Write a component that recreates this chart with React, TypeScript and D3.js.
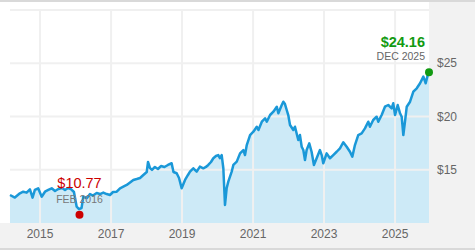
import React from "react";
import * as d3 from "d3";

const dates: string[] = [
  "2014-02-26","2014-04-17","2014-06-08","2014-07-12","2014-08-16","2014-09-19","2014-10-16","2014-11-09","2014-12-13",
  "2015-01-18","2015-02-21","2015-03-27","2015-05-01","2015-06-04","2015-07-08","2015-08-15","2015-09-15","2015-10-16","2015-11-15","2015-12-16",
  "2016-01-13","2016-02-06","2016-03-03","2016-03-21","2016-04-28","2016-05-29","2016-06-29","2016-08-06","2016-09-09","2016-10-13","2016-11-17","2016-12-21",
  "2017-01-21","2017-02-28","2017-04-03","2017-05-07","2017-06-11","2017-07-15","2017-08-18","2017-09-22","2017-10-26","2017-11-29",
  "2018-01-03","2018-01-16","2018-02-06","2018-02-26","2018-03-28","2018-04-28","2018-05-29","2018-07-04","2018-08-09","2018-09-16","2018-10-05","2018-11-07","2018-12-01","2018-12-28",
  "2019-02-01","2019-03-03","2019-03-24","2019-04-27","2019-06-01","2019-07-04","2019-08-08","2019-09-04","2019-09-28","2019-10-26","2019-11-19","2019-12-16",
  "2020-01-09","2020-01-26","2020-02-13","2020-03-01","2020-03-18","2020-04-04","2020-04-21","2020-05-26","2020-06-12","2020-07-17","2020-08-20","2020-09-23","2020-10-10","2020-10-28","2020-12-01",
  "2021-01-04","2021-02-08","2021-02-25","2021-04-01","2021-05-05","2021-05-22","2021-06-25","2021-07-29","2021-09-02","2021-09-18","2021-10-23","2021-11-08","2021-11-25","2021-12-13","2021-12-29",
  "2022-01-16","2022-02-19","2022-03-08","2022-04-11","2022-04-28","2022-05-16","2022-06-02","2022-06-19","2022-07-06","2022-08-02","2022-08-26","2022-09-19","2022-10-17","2022-11-20","2022-12-08","2022-12-24",
  "2023-01-28","2023-03-03","2023-04-06","2023-05-11","2023-06-14","2023-07-18","2023-08-22","2023-09-25","2023-10-19","2023-11-15","2023-12-19",
  "2024-01-23","2024-02-26","2024-03-31","2024-04-17","2024-05-21","2024-06-25","2024-07-12","2024-08-16","2024-09-19","2024-10-23","2024-11-27","2024-12-13",
  "2025-01-01","2025-01-28","2025-02-21","2025-03-10","2025-03-27","2025-04-13","2025-05-01","2025-06-04","2025-07-08","2025-08-12","2025-09-15","2025-10-19","2025-11-12","2025-12-03","2025-12-16",
];

const prices: number[] = [
  12.63,12.39,12.79,12.94,12.85,13.16,12.38,13.10,13.26,
  12.47,12.94,13.10,13.26,13.00,13.19,13.29,13.10,13.29,13.19,12.91,
  11.53,11.31,11.41,12.47,12.35,12.72,12.58,12.82,12.72,12.86,12.72,12.63,
  12.91,12.94,13.26,13.41,13.57,13.80,14.04,14.13,14.23,14.51,
  14.79,15.73,15.16,14.98,15.26,15.07,15.35,15.26,15.45,15.61,14.79,14.67,14.23,13.26,
  14.04,14.51,14.82,15.14,14.82,15.29,15.14,15.26,15.45,15.73,16.08,16.29,
  16.38,16.08,16.38,15.14,11.69,13.26,13.88,14.82,15.45,15.76,16.54,16.85,16.38,17.32,18.26,
  18.57,19.04,18.73,19.51,19.83,19.51,20.14,20.45,20.92,20.30,21.08,21.39,21.17,20.61,20.14,
  19.20,18.73,19.04,17.79,18.26,17.16,16.85,15.92,16.85,17.48,16.69,15.45,16.08,16.85,16.38,15.61,
  16.54,16.08,16.38,16.69,17.01,17.58,17.16,16.69,16.23,17.32,18.26,
  18.42,18.89,19.51,19.04,19.67,19.98,19.51,20.14,20.92,21.08,20.77,21.24,
  20.14,21.08,20.30,19.98,18.26,19.51,20.92,21.39,22.33,22.65,23.12,23.74,23.12,23.90,24.16,
];

const yTicks: number[] = [15, 20, 25];
const yGrid: number[] = [15, 20, 25, 30];
const xTickYears: number[] = [2015, 2017, 2019, 2021, 2023, 2025];

const lowDate = "2016-02-11";
const lowValue = 10.77;
const lowLabel = "$10.77";
const lowSub = "FEB 2016";
const lastLabel = "$24.16";
const lastSub = "DEC 2025";

export default function App() {
  const W = 475, H = 250;
  const left = 10, right = 429, top = 10, bottom = 223;
  const parse = d3.timeParse("%Y-%m-%d");
  const data = dates.map((d, i) => ({ date: parse(d) as Date, value: prices[i] }));
  const x = d3.scaleTime().domain([data[0].date, data[data.length - 1].date]).range([left, right]);
  const y = d3.scaleLinear().domain([10, 30]).range([bottom, top]);

  const area = d3.area<{ date: Date; value: number }>()
    .x((d) => x(d.date)).y0(bottom).y1((d) => y(d.value));
  const line = d3.line<{ date: Date; value: number }>()
    .x((d) => x(d.date)).y((d) => y(d.value));

  const last = data[data.length - 1];
  const lowX = x(parse(lowDate) as Date);
  const lowY = y(lowValue);
  const lastX = x(last.date);
  const lastY = y(last.value);
  const font = "'Liberation Sans', Arial, sans-serif";

  return (
    <svg width={W} height={H} style={{ position: "absolute", left: 0, top: 0 }} fontFamily={font}>
      <rect x={0} y={0} width={W} height={H} fill="#ffffff" />
      <path d={area(data) || ""} fill="#cdeaf7" />
      {yGrid.map((v) => (
        <line key={"h" + v} x1={left} x2={right} y1={y(v)} y2={y(v)} stroke="#f0f0f0" strokeWidth={2} />
      ))}
      {xTickYears.map((yr) => {
        const xx = x(new Date(yr, 0, 1));
        return <line key={"v" + yr} x1={xx} x2={xx} y1={top} y2={bottom} stroke="#f0f0f0" strokeWidth={2} />;
      })}
      <path d={line(data) || ""} fill="none" stroke="#1a98d8" strokeWidth={2.5} strokeLinejoin="round" />
      <rect x={right} y={0} width={W - right} height={H} fill="#f2f2f2" />
      <rect x={0} y={bottom} width={W} height={H - bottom} fill="#f2f2f2" />
      <rect x={0} y={0} width={W} height={2} fill="#d9d9d9" />
      <rect x={0} y={H - 2} width={W} height={2} fill="#d9d9d9" />
      {yTicks.map((v) => (
        <text key={"yt" + v} x={437} y={y(v)} dy="0.35em" fontSize={12} fill="#666">{"$" + v}</text>
      ))}
      {xTickYears.map((yr) => (
        <text key={"xt" + yr} x={x(new Date(yr, 0, 1))} y={238} textAnchor="middle" fontSize={12} fill="#666">{yr}</text>
      ))}
      <text x={lowX} y={188} textAnchor="middle" fontSize={14.5} fill="#cc0000">{lowLabel}</text>
      <text x={lowX} y={203} textAnchor="middle" fontSize={10.5} fill="#777">{lowSub}</text>
      <circle cx={lowX} cy={lowY} r={4} fill="#cc0000" />
      <text x={425} y={47} textAnchor="end" fontSize={14.5} fill="#129a12" fontWeight="bold">{lastLabel}</text>
      <text x={425} y={59.5} textAnchor="end" fontSize={10.5} fill="#666">{lastSub}</text>
      <circle cx={lastX} cy={lastY} r={4} fill="#129a12" />
    </svg>
  );
}
